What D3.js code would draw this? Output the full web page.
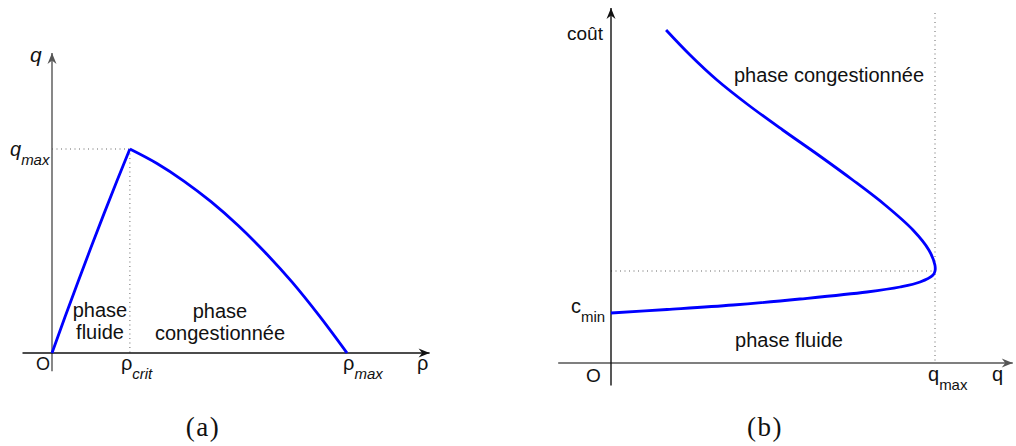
<!DOCTYPE html>
<html>
<head>
<meta charset="utf-8">
<script src="https://cdn.jsdelivr.net/npm/d3@7"></script>
<style>
  html, body { margin: 0; padding: 0; background: #fff; }
  svg { display: block; font-family: "Liberation Sans", Arial, sans-serif; }
</style>
</head>
<body>
<svg id="chart" width="1016" height="446"></svg>
<script>
// ---------- DATA ----------
// (a) fundamental diagram: flow q versus density rho (rho_max = 1, q_max = 1)
const rhoCrit = 0.264;
const fluidRho = [0, 0.044, 0.088, 0.132, 0.176, 0.220, 0.264];
const fluidQ   = [0, 0.176, 0.348, 0.517, 0.682, 0.843, 1.000];
const congRho  = [0.264, 0.356, 0.447, 0.539, 0.631, 0.722, 0.814, 0.905, 1.000];
const congQ    = [1.000, 0.929, 0.843, 0.742, 0.625, 0.494, 0.347, 0.184, 0.000];

// (b) cost versus flow q (q_max = 1, c_min = 1): fluid branch then congested branch
const costQ = [0, 0.173, 0.377, 0.583, 0.790, 0.892, 0.954, 0.994, 1.000,
               0.9997, 0.981, 0.932, 0.846, 0.746, 0.640, 0.530, 0.424, 0.327, 0.244, 0.170];
const costC = [1.00, 1.07, 1.16, 1.28, 1.42, 1.52, 1.62, 1.76, 1.84,
               1.96, 2.26, 2.66, 3.16, 3.66, 4.16, 4.66, 5.16, 5.66, 6.16, 6.66];
const costCrit = 1.84;

// labels
const labelsA = {yAxis: "q", xAxis: "ρ", origin: "O", qmax: ["q", "max"], rhoCrit: ["ρ", "crit"], rhoMax: ["ρ", "max"],
                 fluid: ["phase", "fluide"], cong: ["phase", "congestionnée"]};
const labelsB = {yAxis: "coût", xAxis: "q", origin: "O", cmin: ["c", "min"], qmax: ["q", "max"],
                 fluid: "phase fluide", cong: "phase congestionnée"};
const captions = ["(a)", "(b)"];

// ---------- DRAWING ----------
const svg = d3.select("#chart");
const blue = "#0000ff";

const xA = d3.scaleLinear().domain([0, 1]).range([52, 347]);
const yA = d3.scaleLinear().domain([0, 1]).range([353, 149]);
const xB = d3.scaleLinear().domain([0, 1]).range([611, 935]);
const yB = d3.scaleLinear().domain([0, 1]).range([363, 313]);

function arrowHead(g, x, y, dir, color) {
  const L = 11, W = 4.5, N = 3.5;
  let p;
  if (dir === "up") p = [[x, y], [x + W, y + L], [x, y + L - N], [x - W, y + L]];
  else p = [[x, y], [x - L, y - W], [x - L + N, y], [x - L, y + W]];
  g.append("path").attr("d", "M" + p.map(d => d.join(",")).join("L") + "Z").attr("fill", color);
}

function axis(g, x1, y1, x2, y2, color, dir) {
  g.append("line").attr("x1", x1).attr("y1", y1).attr("x2", x2).attr("y2", y2)
    .attr("stroke", color).attr("stroke-width", 1.4);
  arrowHead(g, x2, y2, dir, color);
}

function dotted(g, x1, y1, x2, y2) {
  g.append("line").attr("x1", x1).attr("y1", y1).attr("x2", x2).attr("y2", y2)
    .attr("stroke", "#666").attr("stroke-width", 1).attr("stroke-dasharray", "1,3.5");
}

function subText(g, x, y, main, sub, italicMain, italicSub) {
  const t = g.append("text").attr("x", x).attr("y", y).attr("font-size", 20).attr("fill", "#111");
  t.append("tspan").attr("font-style", italicMain ? "italic" : "normal").text(main);
  t.append("tspan").attr("font-style", italicSub ? "italic" : "normal").attr("font-size", 15).attr("dy", 9).text(sub);
}

function label(g, x, y, txt, size, anchor, style) {
  g.append("text").attr("x", x).attr("y", y).attr("font-size", size || 20)
    .attr("text-anchor", anchor || "start").attr("font-style", style || "normal")
    .attr("fill", "#111").text(txt);
}

// ---- chart (a) ----
const gA = svg.append("g");
dotted(gA, xA(0), yA(1), xA(rhoCrit), yA(1));
dotted(gA, xA(rhoCrit), yA(1), xA(rhoCrit), yA(0));
axis(gA, xA(0), yA(-0.09), xA(0), yA(1.47), "#555", "up");
axis(gA, xA(-0.1), yA(0), xA(1.28), yA(0), "#111", "right");

const lineA = d3.line().x(d => xA(d[0])).y(d => yA(d[1])).curve(d3.curveMonotoneX);
gA.append("path").datum(d3.zip(fluidRho, fluidQ)).attr("d", lineA)
  .attr("fill", "none").attr("stroke", blue).attr("stroke-width", 2.8);
gA.append("path").datum(d3.zip(congRho, congQ)).attr("d", lineA)
  .attr("fill", "none").attr("stroke", blue).attr("stroke-width", 2.8);

label(gA, 30, 62, labelsA.yAxis, 21, "start", "italic");
subText(gA, 10, 156, labelsA.qmax[0], labelsA.qmax[1], true, true);
label(gA, 36, 370, labelsA.origin, 18);
subText(gA, xA(rhoCrit) - 9, 370, labelsA.rhoCrit[0], labelsA.rhoCrit[1], false, true);
subText(gA, xA(1) - 4, 370, labelsA.rhoMax[0], labelsA.rhoMax[1], false, true);
label(gA, 417, 370, labelsA.xAxis, 20);
label(gA, 100, 317, labelsA.fluid[0], 20, "middle");
label(gA, 100, 339, labelsA.fluid[1], 20, "middle");
label(gA, 220, 318, labelsA.cong[0], 20, "middle");
label(gA, 220, 340, labelsA.cong[1], 20, "middle");

// ---- chart (b) ----
const gB = svg.append("g");
dotted(gB, xB(0), yB(costCrit), xB(1), yB(costCrit));
dotted(gB, xB(1), yB(7.0), xB(1), yB(0));
axis(gB, xB(-0.163), yB(0), xB(1.24), yB(0), "#555", "right");
axis(gB, xB(0), yB(-0.45), xB(0), yB(7.1), "#111", "up");

const lineB = d3.line().x(d => xB(d[0])).y(d => yB(d[1])).curve(d3.curveCatmullRom.alpha(0.5));
gB.append("path").datum(d3.zip(costQ, costC)).attr("d", lineB)
  .attr("fill", "none").attr("stroke", blue).attr("stroke-width", 2.8);

label(gB, 567, 40, labelsB.yAxis, 19);
subText(gB, 571, 313, labelsB.cmin[0], labelsB.cmin[1], false, false);
label(gB, 586, 382, labelsB.origin, 19);
subText(gB, 928, 381, labelsB.qmax[0], labelsB.qmax[1], false, false);
label(gB, 992, 381, labelsB.xAxis, 20);
label(gB, 829, 82, labelsB.cong, 20, "middle");
label(gB, 789, 347, labelsB.fluid, 20, "middle");

// ---- captions ----
const capX = [203, 765];
captions.forEach((c, i) => {
  svg.append("text").attr("x", capX[i]).attr("y", 436).attr("text-anchor", "middle")
    .attr("font-family", "'Liberation Serif', 'DejaVu Serif', serif").attr("font-size", 27)
    .attr("letter-spacing", 1.5).attr("fill", "#111").text(c);
});
</script>
</body>
</html>
